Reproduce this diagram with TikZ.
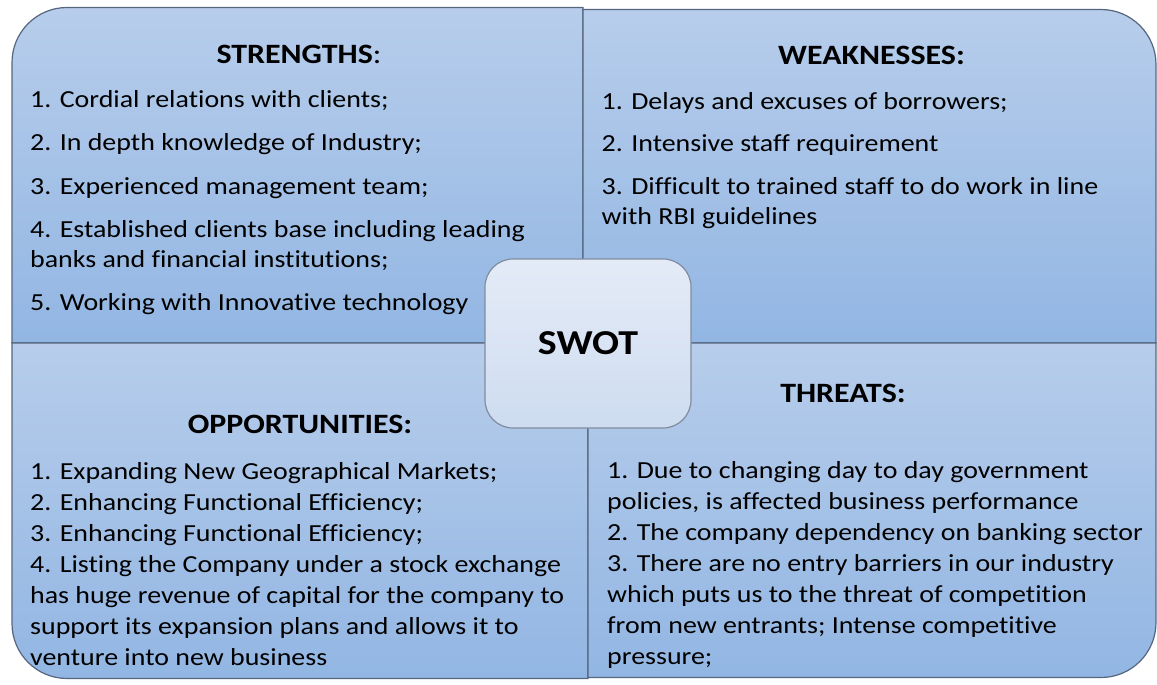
\documentclass[tikz,border=0pt]{standalone}
\usepackage{fontspec}
\setmainfont{Carlito}[FakeStretch=1.14, Ligatures=NoCommon]
\definecolor{qtop}{RGB}{183,205,235}
\definecolor{qbot}{RGB}{146,182,227}
\definecolor{qline}{RGB}{86,102,126}
\definecolor{ctop}{RGB}{228,235,247}
\definecolor{cbot}{RGB}{206,220,240}
\definecolor{cline}{RGB}{128,140,158}
\begin{document}
\begin{tikzpicture}[x=1pt,y=-1pt,
  quad/.style={draw=qline, line width=1.2pt, top color=qtop, bottom color=qbot},
  body/.style={anchor=base west, inner sep=0pt, font=\fontsize{24.5}{29}\selectfont, text=black},
  title/.style={anchor=base, inner sep=0pt, font=\fontsize{28}{32}\selectfont, text=black}]
\useasboundingbox (0,0) rectangle (1157,685);
% quadrants
\shade[quad] (583,343) -- (12,343) -- (12,62.5) arc[start angle=180,end angle=270,radius=55] -- (583,7.5) -- cycle;
\shade[quad] (583,343) -- (583,9.5) -- (1101,9.5) arc[start angle=270,end angle=360,radius=55] -- (1156,343) -- cycle;
\shade[quad] (588,343) -- (12,343) -- (12,623.5) arc[start angle=180,end angle=90,radius=55] -- (588,678.5) -- cycle;
\shade[quad] (588,343) -- (1156,343) -- (1156,622.5) arc[start angle=0,end angle=90,radius=55] -- (588,677.5) -- cycle;
% centre
\node[draw=cline, line width=1.2pt, rounded corners=28pt, top color=ctop, bottom color=cbot,
  minimum width=206pt, minimum height=169pt, inner sep=0pt,
  font=\fontsize{35}{40}\selectfont\bfseries] (swot) at (588,343.5) {SWOT};
% strengths
\node[title] (st) at (299,63.3) {\textbf{STRENGTHS}:};
\node[body] (s1) at (30,107.3) {1. Cordial relations with clients;};
\node[body] (s2) at (30,150.7) {2. In depth knowledge of Industry;};
\node[body] (s3) at (30,194) {3. Experienced management team;};
\node[body] (s4) at (30,237.5) {4. Established clients base including leading};
\node[body] (s4b) at (30,267.5) {banks and financial institutions;};
\node[body] (s5) at (30,310.5) {5. Working with Innovative technology};
% weaknesses
\node[title] (wt) at (871.5,65) {\textbf{WEAKNESSES:}};
\node[body] (w1) at (601.5,110) {1. Delays and excuses of borrowers;};
\node[body] (w2) at (601.5,151.7) {2. Intensive staff requirement};
\node[body] (w3) at (601.5,194.3) {3. Difficult to trained staff to do work in line};
\node[body] (w3b) at (601.5,224.3) {with RBI guidelines};
% opportunities
\node[title] (ot) at (300,433.3) {\textbf{OPPORTUNITIES:}};
\node[body] (o1) at (30,479.3) {1. Expanding New Geographical Markets;};
\node[body] (o2) at (30,510.3) {2. Enhancing Functional Efficiency;};
\node[body] (o3) at (30,541.3) {3. Enhancing Functional Efficiency;};
\node[body] (o4) at (30,572.3) {4. Listing the Company under a stock exchange};
\node[body] (o4b) at (30,603.3) {has huge revenue of capital for the company to};
\node[body] (o4c) at (30,634.3) {support its expansion plans and allows it to};
\node[body] (o4d) at (30,665.3) {venture into new business};
% threats
\node[title] (tt) at (843,402.7) {\textbf{THREATS:}};
\node[body] (t1) at (607,478.3) {1. Due to changing day to day government};
\node[body] (t1b) at (607,509.3) {policies, is affected business performance};
\node[body] (t2) at (607,540.3) {2. The company dependency on banking sector};
\node[body] (t3) at (607,571.3) {3. There are no entry barriers in our industry};
\node[body] (t3b) at (607,602.3) {which puts us to the threat of competition};
\node[body] (t3c) at (607,633.3) {from new entrants; Intense competitive};
\node[body] (t3d) at (607,664.3) {pressure;};
\end{tikzpicture}
\end{document}
